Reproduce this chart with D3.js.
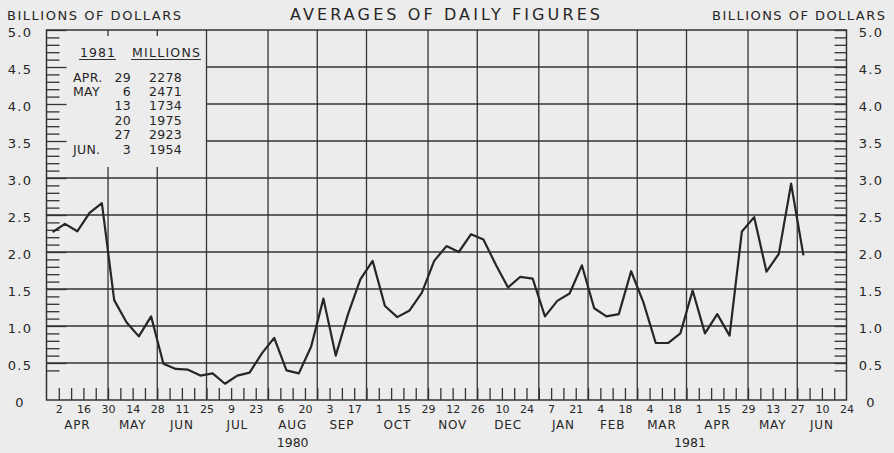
<!DOCTYPE html>
<html>
<head>
<meta charset="utf-8">
<script src="https://cdn.jsdelivr.net/npm/d3@7"></script>
<style>
  body { margin: 0; background: #ececec; }
  svg { display: block; }
  text { font-family: "DejaVu Sans", sans-serif; fill: #262626; }
</style>
</head>
<body>
<svg id="chart" width="894" height="453"></svg>
<script>
// weekly averages of daily figures (billions), weeks ending Wednesday, from Apr 2 1980
const firstWeek = new Date(1980, 3, 2);
const values = [2.27, 2.38, 2.28, 2.53, 2.66, 1.35, 1.05, 0.86, 1.13, 0.49,
  0.42, 0.41, 0.33, 0.36, 0.22, 0.33, 0.37, 0.63, 0.84, 0.40,
  0.36, 0.72, 1.37, 0.60, 1.16, 1.63, 1.88, 1.27, 1.12, 1.21,
  1.45, 1.88, 2.08, 2.00, 2.24, 2.17, 1.83, 1.52, 1.665, 1.64,
  1.13, 1.34, 1.44, 1.82, 1.24, 1.13, 1.16, 1.74, 1.32, 0.77,
  0.77, 0.90, 1.48, 0.90, 1.16, 0.87, 2.278, 2.471, 1.734, 1.975,
  2.923, 1.954];

// last Wednesday of each month = vertical grid line
const monthEnds = [
  new Date(1980, 3, 30), new Date(1980, 4, 28), new Date(1980, 5, 25), new Date(1980, 6, 30),
  new Date(1980, 7, 27), new Date(1980, 8, 24), new Date(1980, 9, 29), new Date(1980, 10, 26),
  new Date(1980, 11, 31), new Date(1981, 0, 28), new Date(1981, 1, 25), new Date(1981, 2, 25),
  new Date(1981, 3, 29), new Date(1981, 4, 27), new Date(1981, 5, 24)];
const monthLabels = ["APR", "MAY", "JUN", "JUL", "AUG", "SEP", "OCT", "NOV",
  "DEC", "JAN", "FEB", "MAR", "APR", "MAY", "JUN"];
const yearLabels = ["1980", "1981"];
const yearDates = [new Date(1980, 7, 13), new Date(1981, 2, 27)];
const yTicks = [0, 0.5, 1, 1.5, 2, 2.5, 3, 3.5, 4, 4.5, 5];

const legendMonths = ["APR.", "MAY", "", "", "", "JUN."];
const legendDays = ["29", "6", "13", "20", "27", "3"];
const legendValues = ["2278", "2471", "1734", "1975", "2923", "1954"];

const plotLeft = 46.5, plotRight = 846.5, plotTop = 30, plotBottom = 400;
const startDate = new Date(1980, 2, 26);

const x = d3.scaleTime()
  .domain([startDate, monthEnds[monthEnds.length - 1]])
  .range([plotLeft, plotRight]);
const y = d3.scaleLinear().domain([0, 5]).range([plotBottom, plotTop]);

const svg = d3.select("#chart");
const ink = "#333";

svg.append("rect").attr("width", 894).attr("height", 453).attr("fill", "#ececec");

// legend box keeps the grid out of the top-left corner
const legendRight = x(monthEnds[2]);
const legendBottom = y(3.15);

// horizontal grid
svg.append("g")
  .selectAll("line")
  .data(yTicks.filter(v => v > 0 && v < 5))
  .join("line")
  .attr("x1", v => v > 3.2 ? legendRight : plotLeft)
  .attr("x2", plotRight)
  .attr("y1", v => y(v)).attr("y2", v => y(v))
  .attr("stroke", ink).attr("stroke-width", 1.3);

// vertical grid at month ends
const vgrid = svg.append("g");
vgrid.selectAll("line.full")
  .data(monthEnds.slice(0, -1))
  .join("line")
  .attr("class", "full")
  .attr("x1", d => x(d)).attr("x2", d => x(d))
  .attr("y1", d => x(d) < legendRight - 1 ? legendBottom : plotTop)
  .attr("y2", plotBottom)
  .attr("stroke", ink).attr("stroke-width", 1.3);
vgrid.selectAll("line.stub")
  .data(monthEnds.slice(0, 2))
  .join("line")
  .attr("class", "stub")
  .attr("x1", d => x(d)).attr("x2", d => x(d))
  .attr("y1", plotTop).attr("y2", plotTop + 6)
  .attr("stroke", ink).attr("stroke-width", 1.3);

// frame
svg.append("rect")
  .attr("x", plotLeft).attr("y", plotTop)
  .attr("width", plotRight - plotLeft).attr("height", plotBottom - plotTop)
  .attr("fill", "none").attr("stroke", ink).attr("stroke-width", 1.5);

// minor y ticks (every 0.1 from 0.4 up)
const minor = d3.range(4, 51).map(i => i / 10);
svg.append("g")
  .attr("transform", `translate(${plotLeft},0)`)
  .call(d3.axisRight(y).tickValues(minor).tickSize(13).tickFormat(""))
  .call(g => g.select(".domain").remove())
  .call(g => g.selectAll(".tick line").attr("stroke", ink).attr("stroke-width", 1.3)
    .attr("x2", d => Math.abs(d * 2 - Math.round(d * 2)) < 1e-6 ? 20 : 13));
svg.append("g")
  .attr("transform", `translate(${plotRight},0)`)
  .call(d3.axisLeft(y).tickValues(minor).tickSize(12).tickFormat(""))
  .call(g => g.select(".domain").remove())
  .call(g => g.selectAll(".tick line").attr("stroke", ink).attr("stroke-width", 1.3));

// weekly ticks along the bottom
const weeks = d3.timeWednesday.range(new Date(1980, 2, 27), monthEnds[monthEnds.length - 1]);
svg.append("g")
  .attr("transform", `translate(0,${plotBottom})`)
  .call(d3.axisBottom(x).tickValues(weeks).tickSize(-12).tickFormat(""))
  .call(g => g.select(".domain").remove())
  .call(g => g.selectAll(".tick line").attr("stroke", ink).attr("stroke-width", 1.3));

// day labels every other week
const labelWeeks = d3.timeWednesday.range(new Date(1980, 3, 1), new Date(1981, 5, 25), 2);
svg.append("g")
  .attr("transform", `translate(0,${plotBottom})`)
  .call(d3.axisBottom(x).tickValues(labelWeeks).tickSize(0).tickPadding(5)
    .tickFormat(d3.timeFormat("%-d")))
  .call(g => g.select(".domain").remove())
  .call(g => g.selectAll("text")
    .attr("font-family", "DejaVu Sans").attr("font-size", 11)
    .attr("fill", "#262626"));

// month labels
const monthStarts = [startDate].concat(monthEnds.slice(0, -1));
svg.append("g")
  .selectAll("text")
  .data(monthLabels)
  .join("text")
  .attr("x", (d, i) => (x(monthStarts[i]) + x(monthEnds[i])) / 2)
  .attr("y", 429)
  .attr("text-anchor", "middle")
  .attr("font-size", 12)
  .attr("letter-spacing", 0.8)
  .text(d => d);

svg.append("g")
  .selectAll("text")
  .data(yearLabels)
  .join("text")
  .attr("x", (d, i) => x(yearDates[i]))
  .attr("y", 447)
  .attr("text-anchor", "middle")
  .attr("font-size", 12.5)
  .text(d => d);

// y labels both sides
const fmt = v => v === 0 ? "0" : d3.format(".1f")(v);
[20, 871].forEach(cx => {
  svg.append("g")
    .selectAll("text")
    .data(yTicks)
    .join("text")
    .attr("x", cx)
    .attr("y", v => y(v) + 7)
    .attr("text-anchor", "middle")
    .attr("font-size", 13)
    .attr("letter-spacing", 1.3)
    .text(fmt);
});

// headers
svg.append("text").attr("x", 7).attr("y", 20).attr("font-size", 13)
  .attr("textLength", 174).attr("lengthAdjust", "spacing")
  .text("BILLIONS OF DOLLARS");
svg.append("text").attr("x", 712).attr("y", 19.5).attr("font-size", 13)
  .attr("textLength", 173).attr("lengthAdjust", "spacing")
  .text("BILLIONS OF DOLLARS");
svg.append("text").attr("x", 290).attr("y", 20).attr("font-size", 16)
  .attr("textLength", 310).attr("lengthAdjust", "spacing")
  .text("AVERAGES OF DAILY FIGURES");

// legend
const lg = svg.append("g");
lg.append("text").attr("x", 80).attr("y", 56.5).attr("font-size", 12.5)
  .attr("textLength", 35).attr("lengthAdjust", "spacing").text("1981");
lg.append("text").attr("x", 132).attr("y", 56.5).attr("font-size", 12.5)
  .attr("textLength", 68).attr("lengthAdjust", "spacing").text("MILLIONS");
lg.selectAll("line")
  .data([[79, 116], [131, 201]])
  .join("line")
  .attr("x1", d => d[0]).attr("x2", d => d[1])
  .attr("y1", 59.5).attr("y2", 59.5)
  .attr("stroke", ink).attr("stroke-width", 1.2);
const rowY = i => 81.5 + i * 14.4;
lg.selectAll("text.m").data(legendMonths).join("text").attr("class", "m")
  .attr("x", 73).attr("y", (d, i) => rowY(i)).attr("font-size", 12.5)
  .attr("letter-spacing", 0.3).text(d => d);
lg.selectAll("text.d").data(legendDays).join("text").attr("class", "d")
  .attr("x", 131).attr("y", (d, i) => rowY(i)).attr("font-size", 12.5)
  .attr("text-anchor", "end").attr("letter-spacing", 0.3).text(d => d);
lg.selectAll("text.v").data(legendValues).join("text").attr("class", "v")
  .attr("x", 182).attr("y", (d, i) => rowY(i)).attr("font-size", 12.5)
  .attr("text-anchor", "end").attr("letter-spacing", 0.3).text(d => d);

// the series, plotted at mid-week
const points = values.map((v, i) => ({
  date: d3.timeHour.offset(d3.timeDay.offset(firstWeek, 7 * i), -84),
  value: v
}));
const line = d3.line().x(d => x(d.date)).y(d => y(d.value));
svg.append("path")
  .datum(points)
  .attr("d", line)
  .attr("fill", "none")
  .attr("stroke", "#262626")
  .attr("stroke-width", 2.2)
  .attr("stroke-linejoin", "round");
</script>
</body>
</html>
